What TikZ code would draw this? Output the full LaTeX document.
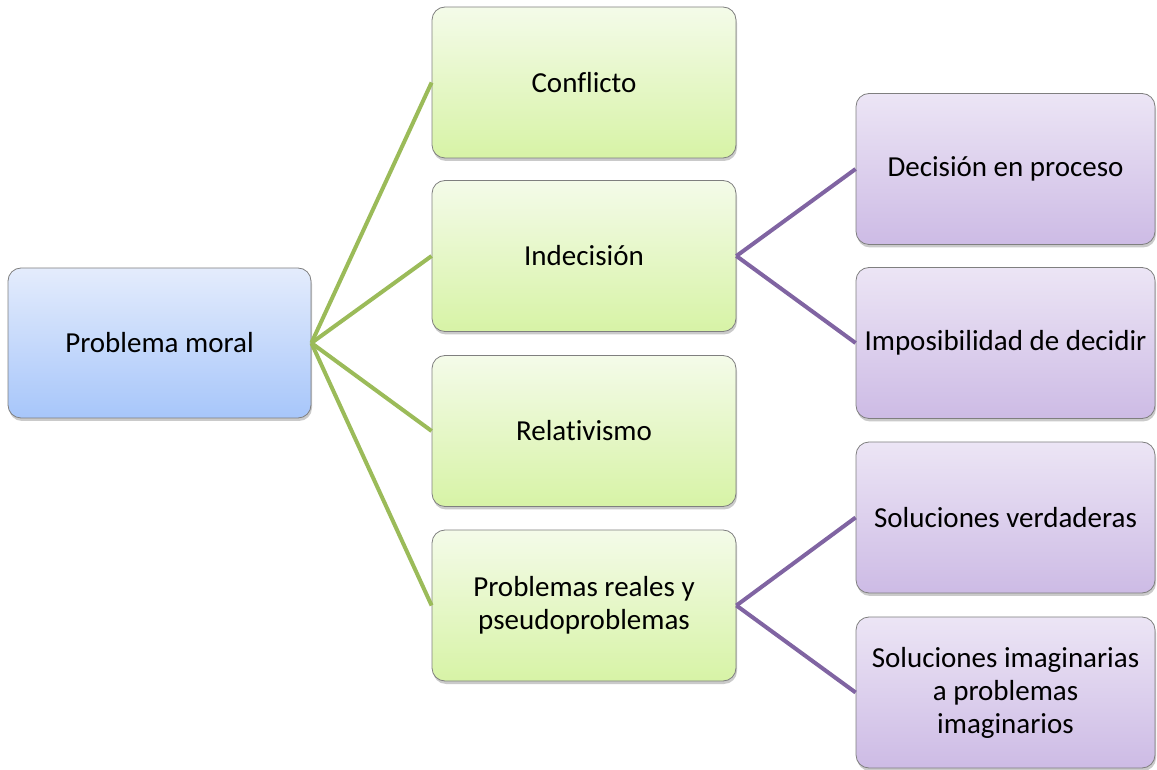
\documentclass[tikz,border=0pt]{standalone}
\usepackage{fontspec}
\setmainfont[Ligatures={NoCommon}]{Carlito}
\usetikzlibrary{shadows}
\definecolor{bluetop}{HTML}{E4ECFC}
\definecolor{bluebot}{HTML}{A7C6FA}
\definecolor{greentop}{HTML}{F4FBE9}
\definecolor{greenbot}{HTML}{D7F3A6}
\definecolor{purptop}{HTML}{ECE5F5}
\definecolor{purpbot}{HTML}{CDBBE5}
\definecolor{greenline}{HTML}{9BBB59}
\definecolor{purpline}{HTML}{8064A2}
\definecolor{boxborder}{HTML}{7F7F7F}
\tikzset{
  box/.style={draw=boxborder, line width=0.8pt, rounded corners=13pt,
    align=center, inner sep=2pt, font=\fontsize{29}{33}\selectfont,
    drop shadow={shadow xshift=1pt, shadow yshift=-3pt, opacity=0.35, fill=black!60}},
  rootbox/.style={box, minimum width=303pt, minimum height=150pt, top color=bluetop, bottom color=bluebot},
  greenbox/.style={box, minimum width=304pt, minimum height=151pt, top color=greentop, bottom color=greenbot},
  purpbox/.style={box, minimum width=299pt, minimum height=151pt, top color=purptop, bottom color=purpbot},
  gline/.style={draw=greenline, line width=4pt},
  pline/.style={draw=purpline, line width=4pt}
}
\begin{document}
\begin{tikzpicture}[x=1pt,y=1pt]
\useasboundingbox (0,0) rectangle (1157,769);
\node[rootbox] (root) at (159.5,426) {Problema moral};
\node[greenbox] (g1) at (584,686.5) {Conflicto};
\node[greenbox] (g2) at (584,513) {Indecisión};
\node[greenbox] (g3) at (584,338) {Relativismo};
\node[greenbox] (g4) at (584,163.5) {Problemas reales y\\pseudoproblemas};
\node[purpbox] (p1) at (1005.5,600) {Decisión en proceso};
\node[purpbox] (p2) at (1005.5,426) {Imposibilidad de decidir};
\node[purpbox] (p3) at (1005.5,251.5) {Soluciones verdaderas};
\node[purpbox] (p4) at (1005.5,76.5) {Soluciones imaginarias\\a problemas\\imaginarios};
\draw[gline] (root.east) -- (g1.west);
\draw[gline] (root.east) -- (g2.west);
\draw[gline] (root.east) -- (g3.west);
\draw[gline] (root.east) -- (g4.west);
\draw[pline] (g2.east) -- (p1.west);
\draw[pline] (g2.east) -- (p2.west);
\draw[pline] (g4.east) -- (p3.west);
\draw[pline] (g4.east) -- (p4.west);
\end{tikzpicture}
\end{document}
